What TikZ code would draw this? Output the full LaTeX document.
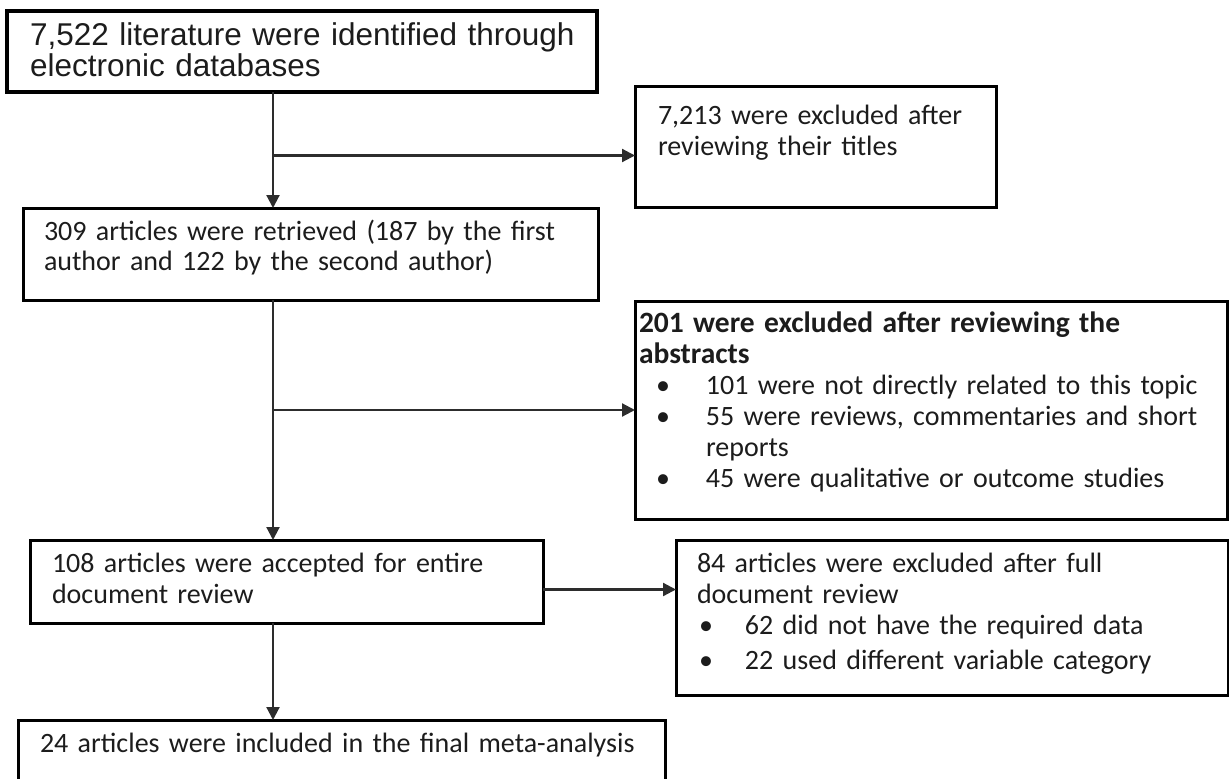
\documentclass[tikz,border=0pt]{standalone}
\usepackage{fontspec}
\setmainfont{Carlito}
\newfontfamily\arialfont{Liberation Sans}
\usepackage{tikz}
\usetikzlibrary{arrows.meta, positioning}
\definecolor{ink}{RGB}{28,28,28}
\definecolor{wire}{RGB}{45,45,45}
\newcommand{\bulletrow}[2]{\mbox{\makebox[#1][l]{\textbullet}#2}}
\tikzstyle{stage} = [draw=black, line width=3pt, anchor=north west, outer sep=0pt, inner ysep=0pt, align=left, text=ink, font=\fontsize{28}{31}\selectfont]
\tikzstyle{arrow} = [draw=wire, line width=2.2pt, -{Triangle[length=13pt,width=13pt]}]

\begin{document}
\begin{tikzpicture}[x=1pt, y=-1pt]
\useasboundingbox (0,0) rectangle (1229,779);
\clip (0,0) rectangle (1229,779);

% boxes, placed by their top left corners
\node[stage, line width=3.5pt, font=\arialfont\fontsize{31.5}{32}\selectfont, inner xsep=23pt, text width=544pt, text height=34pt, text depth=47pt] (identified) at (7,11) {\mbox{7,522 literature were identified through}\\electronic databases};
\node[stage, inner xsep=23pt, text width=315pt, text height=38pt, text depth=83pt] (titles) at (635,86) {\mbox{7,213 were excluded after}\\reviewing their titles};
\node[stage, font=\fontsize{28}{30}\selectfont, inner xsep=21pt, text width=533pt, text height=32pt, text depth=60pt] (retrieved) at (23,208) {\mbox{309 articles were retrieved (187 by the first}\\\mbox{author and 122 by the second author)}};
\node[stage, inner xsep=4pt, text width=584pt, text height=31pt, text depth=187pt] (abstracts) at (635,301) {\mbox{\fontsize{29.5}{31}\selectfont\textbf{201 were excluded after reviewing the}}\\
  {\fontsize{29.5}{31}\selectfont\textbf{abstracts}}\\
  \hspace*{17pt}\bulletrow{50pt}{101 were not directly related to this topic}\\
  \hspace*{17pt}\bulletrow{50pt}{55 were reviews, commentaries and short}\\
  \hspace*{67pt}reports\\
  \hspace*{17pt}\bulletrow{50pt}{45 were qualitative or outcome studies}};
\node[stage, inner xsep=22pt, text width=469pt, text height=32pt, text depth=51pt] (accepted) at (30,540) {\mbox{108 articles were accepted for entire}\\document review};
\node[stage, inner xsep=21pt, text width=510pt, text height=32pt, text depth=123pt] (fulltext) at (676,540) {\mbox{84 articles were excluded after full}\\document review\\
  \hspace*{2pt}\bulletrow{46pt}{62 did not have the required data}\\[4pt]
  \hspace*{2pt}\bulletrow{46pt}{22 used different variable category}};
\node[stage, inner xsep=22pt, text width=603pt, text height=32pt, text depth=100pt] (included) at (18,720) {\mbox{24 articles were included in the final meta-analysis}};

% main line and side branches
\coordinate (spine) at (273,0);
\coordinate (titlesin) at ([yshift=-9pt]titles.west);
\coordinate (fullin) at ([yshift=-8pt]accepted.east);
\draw[arrow] (identified.south -| spine) -- (retrieved.north -| spine);
\draw[arrow] (titlesin -| spine) -- (titlesin);
\draw[arrow] (retrieved.south -| spine) -- (accepted.north -| spine);
\draw[arrow] (abstracts.west -| spine) -- (abstracts.west);
\draw[arrow] (fullin) -- (fullin -| fulltext.west);
\draw[arrow] (accepted.south -| spine) -- (included.north -| spine);
\end{tikzpicture}
\end{document}
